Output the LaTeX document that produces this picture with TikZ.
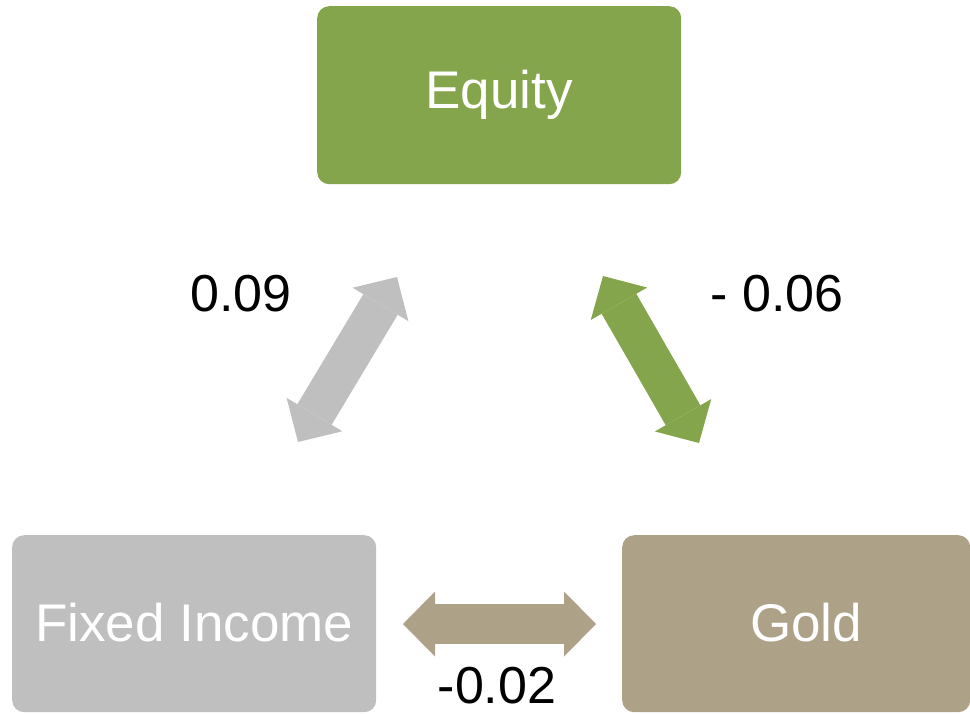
\documentclass[tikz,border=0pt]{standalone}
\usepackage{fontspec}
\setmainfont{Liberation Sans}
\usetikzlibrary{arrows.meta}
\definecolor{eqgreen}{RGB}{132,165,75}
\definecolor{figray}{RGB}{191,191,191}
\definecolor{goldtan}{RGB}{173,162,136}
\begin{document}
\begin{tikzpicture}[x=1pt,y=-1pt,
  box/.style={rounded corners=12pt, inner sep=0pt, text=white,
    font=\fontsize{53}{60}\selectfont, anchor=north west},
  lbl/.style={font=\fontsize{52}{60}\selectfont, text=black, inner sep=0pt},
  dbl/.style={line width=40pt, {Triangle[length=32pt,width=65pt,line width=0pt]}-{Triangle[length=32pt,width=65pt,line width=0pt]}}
]
\useasboundingbox (0,0) rectangle (970,713);
\node[box, fill=eqgreen, minimum width=364pt, minimum height=178pt] (eq) at (317,6) {\raisebox{-2pt}{Equity}};
\node[box, fill=figray, minimum width=364pt, minimum height=177pt] (fi) at (12,535) {\raisebox{2pt}{Fixed Income}};
\node[box, fill=goldtan, minimum width=348pt, minimum height=177pt] (gd) at (622,535) {\hspace*{20pt}\raisebox{2pt}{Gold}};
\coordinate (a1) at (298,442);
\coordinate (a2) at (397,277);
\coordinate (b1) at (603,276);
\coordinate (b2) at (699,443);
\coordinate (c1) at (403,624);
\coordinate (c2) at (596,624);
\draw[dbl, figray] (a1) -- (a2);
\draw[dbl, eqgreen] (b1) -- (b2);
\draw[dbl, goldtan] (c1) -- (c2);
\node[lbl] (l1) at (241,294) {0.09};
\node[lbl] (l2) at (777,294) {- 0.06};
\node[lbl] (l3) at (497,686) {-0.02};
\end{tikzpicture}
\end{document}
